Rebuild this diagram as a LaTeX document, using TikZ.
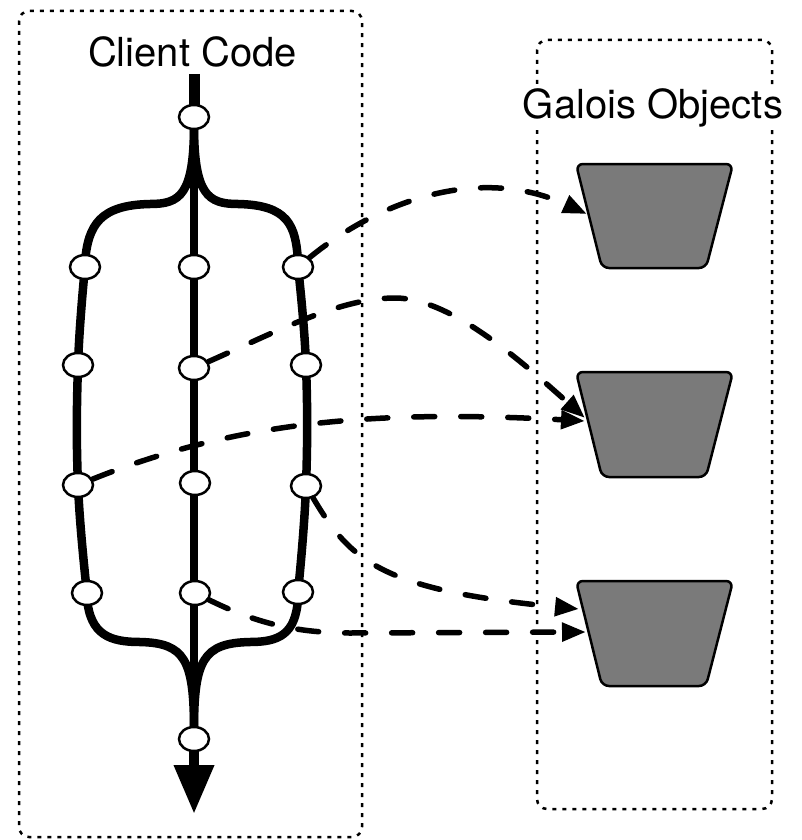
\documentclass[tikz,border=0pt]{standalone}
\usepackage{fontspec}
\setmainfont{TeX Gyre Heros}
\usetikzlibrary{arrows.meta,shapes.geometric}
\definecolor{objgray}{RGB}{122,122,122}
\begin{document}
\begin{tikzpicture}[x=1pt,y=-1pt,
  dotbox/.style={line width=2.5pt, dash pattern=on 4pt off 6pt, rounded corners=10pt},
  branch/.style={line width=8.5pt},
  stemline/.style={line width=8pt},
  cpt/.style={ellipse, draw, fill=white, line width=2.5pt, minimum width=30pt, minimum height=24pt, inner sep=0pt},
  callarrow/.style={line width=5.5pt, dash pattern=on 21pt off 26pt, line cap=round, -{Triangle[length=24pt,width=18pt]}},
  gobj/.style={draw, line width=2.5pt, fill=objgray, rounded corners=7pt},
  boxtitle/.style={font=\fontsize{40}{48}\selectfont, anchor=base, inner sep=2pt}
]
\useasboundingbox (0,0) rectangle (801,840);

% boxes
\draw[dotbox] (19,11) rectangle (362,837);
\draw[dotbox] (537,40) rectangle (772,809);
\node[boxtitle] (cc) at (192.5,67) {Client Code};
\node[boxtitle, fill=white] (go) at (653,119) {Galois Objects};

% coordinates
\coordinate (topstart) at (194,74);
\coordinate (tipend) at (194,814);

% solid flow lines
\draw[line width=11pt] (topstart) -- (194,117);
\draw[stemline] (194,117) -- (194,739);
\draw[branch] (194,125) .. controls (194,195) and (180,204) .. (150,204)
   .. controls (100,205) and (88,225) .. (85,262);
\draw[branch] (194,125) .. controls (194,195) and (208,204) .. (238,204)
   .. controls (288,205) and (296,225) .. (298,262);
\draw[branch] plot[smooth, tension=0.7] coordinates {(85,267) (78,365) (78,485) (87,593)};
\draw[branch] plot[smooth, tension=0.7] coordinates {(298,267) (306,365) (306,486) (298,592)};
\draw[branch] (87,598) .. controls (90,635) and (110,642) .. (140,642)
   .. controls (185,643) and (194,660) .. (194,730);
\draw[branch] (298,598) .. controls (296,635) and (278,642) .. (250,642)
   .. controls (203,643) and (194,660) .. (194,730);
\draw[line width=10pt, -{Triangle[length=49pt,width=38pt]}] (194,739) -- (tipend);

% points
\node[cpt] (c0) at (194,117) {};
\node[cpt] (l1) at (85,267) {};
\node[cpt] (c1) at (194,267) {};
\node[cpt] (r1) at (298,267) {};
\node[cpt] (l2) at (78,365) {};
\node[cpt] (c2) at (194,368) {};
\node[cpt] (r2) at (306,365) {};
\node[cpt] (l3) at (78,485) {};
\node[cpt] (c3) at (195,483) {};
\node[cpt] (r3) at (306,486) {};
\node[cpt] (l4) at (87,593) {};
\node[cpt] (c4) at (195,593) {};
\node[cpt] (r4) at (298,592) {};
\node[cpt] (cb) at (194,739) {};

% galois objects
\draw[gobj] (576,164) -- (733,164) -- (706,268) -- (602,268) -- cycle;
\draw[gobj] (576,372) -- (733,372) -- (706,477) -- (602,477) -- cycle;
\draw[gobj] (576,581) -- (733,581) -- (706,686) -- (602,686) -- cycle;
\coordinate (g1) at (587,214);
\coordinate (g2a) at (585,418);
\coordinate (g2b) at (585,421);
\coordinate (g3a) at (579,609);
\coordinate (g3b) at (586,632);

% calls
\draw[callarrow] (r1) .. controls (380,200) and (480,165) .. (g1);
\draw[callarrow] (c2) .. controls (280,330) and (340,298) .. (395,298)
   .. controls (450,298) and (520,360) .. (g2a);
\draw[callarrow] (l3) .. controls (240,420) and (380,410) .. (g2b);
\draw[callarrow] (r3) .. controls (350,560) and (380,590) .. (g3a);
\draw[callarrow] (c4) .. controls (250,620) and (290,633) .. (350,633) -- (g3b);
\end{tikzpicture}
\end{document}
